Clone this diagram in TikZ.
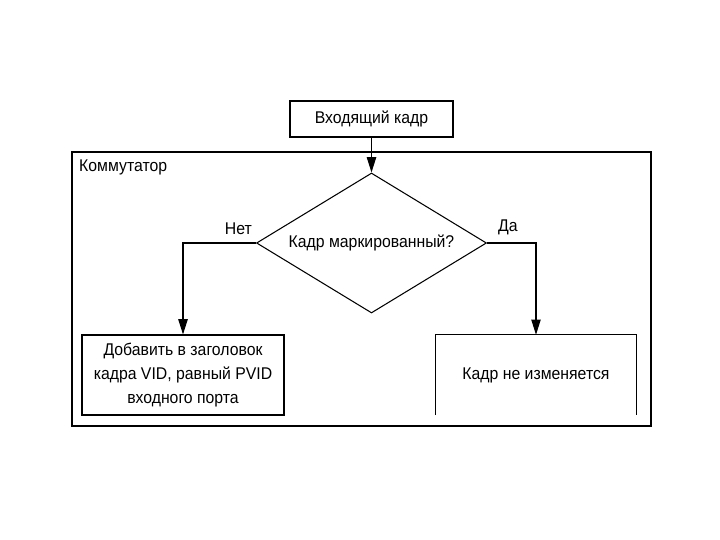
\documentclass[tikz,border=0pt]{standalone}
\usepackage{fontspec}
\setmainfont{Liberation Sans}[FakeStretch=0.93]
\usetikzlibrary{arrows.meta,shapes.geometric,positioning}

\begin{document}
\begin{tikzpicture}[x=0.03cm, y=-0.03cm,
    box/.style={draw, line width=0.9pt, inner sep=2pt,
                font=\fontsize{14.5}{20.5}\selectfont, align=center},
    txt/.style={font=\fontsize{14.5}{20.5}\selectfont, inner sep=0pt},
    arr/.style={-{Triangle[width=8pt,length=13pt]}, line width=0.9pt}]

    \useasboundingbox (0,0) rectangle (720,540);

    % incoming frame
    \node[box, minimum width=4.89cm, minimum height=1.08cm] (in) at (371.5,119) {Входящий кадр};

    % switch
    \node[draw, line width=0.9pt, minimum width=17.37cm, minimum height=8.22cm] (sw) at (361.5,289) {};
    \node[txt, anchor=base west] (swlbl) at (79,172) {Коммутатор};

    \node[box, shape=diamond, aspect=1.64, inner sep=0pt,
          minimum width=6.9cm, minimum height=4.2cm] (check) at (371.5,243) {Кадр маркированный?};
    \node[txt, anchor=base east] (no) at (252,235) {Нет};
    \node[txt, anchor=base west] (yes) at (498,232) {Да};

    \node[box, minimum width=6.06cm, minimum height=2.4cm] (add) at (183,375)
        {Добавить в заголовок\\кадра VID, равный PVID\\входного порта};
    \node[txt, minimum width=6cm, minimum height=2.4cm] (keep) at (536,375) {Кадр не изменяется};
    \draw[line width=0.9pt] (keep.south west) |- (keep.north east) -- (keep.south east);

    \draw[arr] (in.south) -- (check.north);
    \draw[arr] (check.west) -| (add.north);
    \draw[arr] (check.east) -| (keep.north);
\end{tikzpicture}
\end{document}
